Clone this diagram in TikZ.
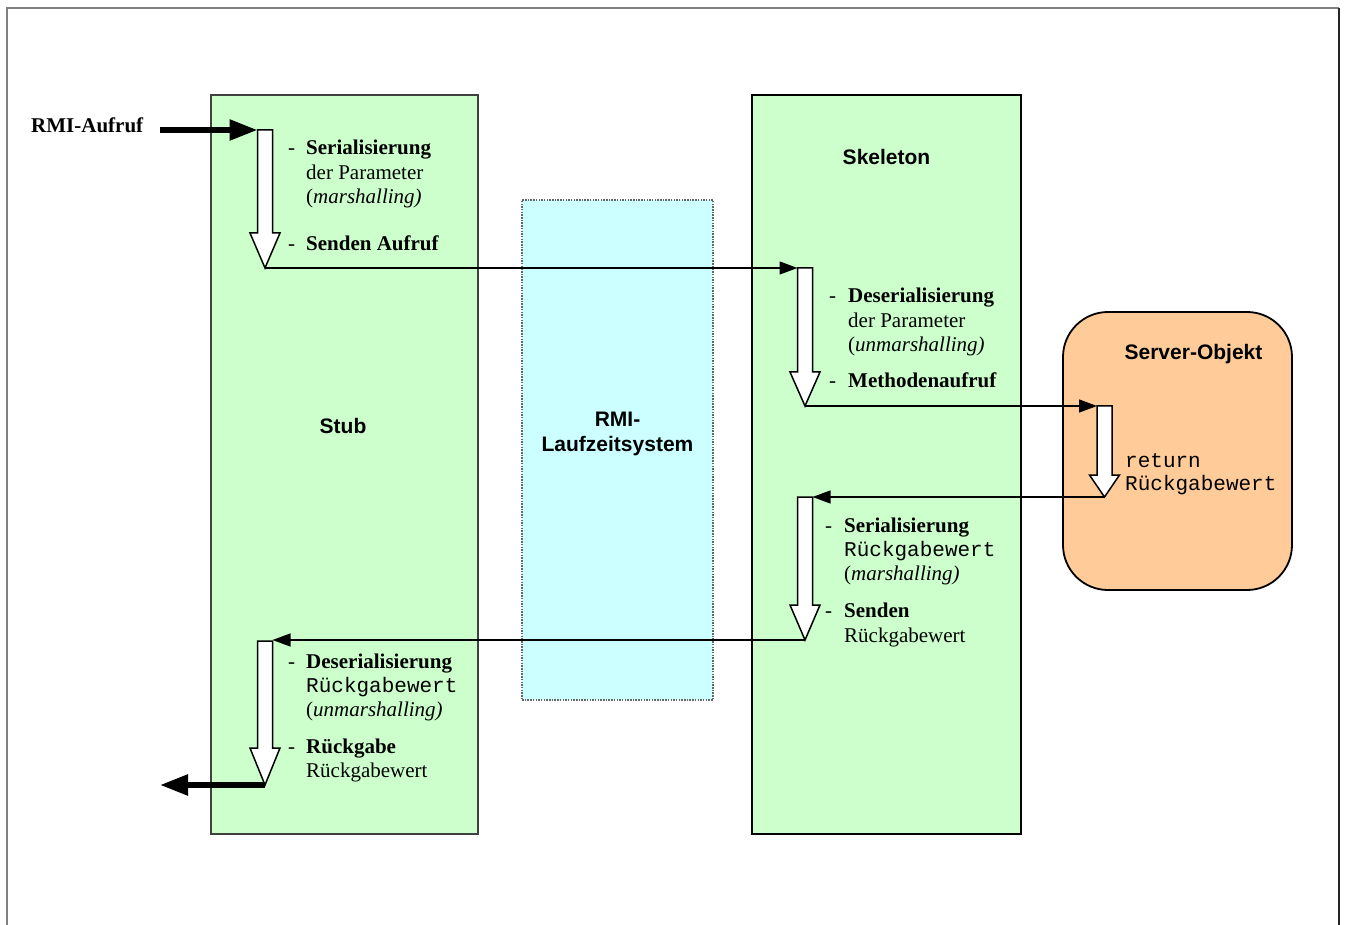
\documentclass[tikz,border=0pt]{standalone}
\usepackage{fontspec}
\setmainfont{Liberation Serif}
\setsansfont{Liberation Sans}
\setmonofont{Liberation Mono}
\usetikzlibrary{arrows.meta}

\definecolor{boxgreen}{HTML}{CCFFCC}
\definecolor{boxcyan}{HTML}{CCFFFF}
\definecolor{boxorange}{HTML}{FFCC99}
\definecolor{framegray}{HTML}{808080}

% hollow downward block arrow: centre x, top y, head start y, tip y
\newcommand{\hollowdown}[4]{%
  \draw[hollow] (#1-7.5,#2) -- (#1+7.5,#2) -- (#1+7.5,#3) -- (#1+15,#3)
    -- (#1,#4) -- (#1-15,#3) -- (#1-7.5,#3) -- cycle;}

\tikzset{
  box/.style={draw, inner sep=0pt, outer sep=0pt},
  title/.style={font=\sffamily\bfseries\fontsize{21}{24.5}\selectfont, inner sep=0pt, anchor=base},
  txt/.style={font=\rmfamily\fontsize{21}{24.5}\selectfont, inner sep=0pt, anchor=base west},
  btxt/.style={txt, font=\rmfamily\bfseries\fontsize{21}{24.5}\selectfont},
  mtxt/.style={txt, font=\ttfamily\fontsize{21}{24.5}\selectfont},
  hollow/.style={draw=black, fill=white, line width=1.5pt, line join=miter},
  thin/.style={line width=1.3pt, -{Triangle[length=18pt,width=13pt]}},
  thick/.style={line width=5.5pt, -{Triangle[length=28pt,width=20pt]}},
}

\begin{document}
\begin{tikzpicture}[x=1pt,y=-1pt]
\useasboundingbox (0,0) rectangle (1345,925);

% page frame
\draw[framegray, line width=1.5pt] (7,925) -- (7,8) -- (1339,8);
\draw[black!85, line width=1.5pt] (1339,8) -- (1339,925);

% components
\node[box, fill=boxgreen, draw=black!75, line width=1.4pt,
      minimum width=267pt, minimum height=739pt] (stub) at (344.5,464.5) {};
\node[box, fill=boxgreen, draw=black, line width=1.8pt,
      minimum width=269pt, minimum height=739pt] (skel) at (886.5,464.5) {};
\node[box, fill=boxcyan, draw=black!60, line width=1.2pt,
      dash pattern=on 1.5pt off 1.2pt,
      minimum width=191pt, minimum height=500pt] (rmi) at (617.5,450) {};
\node[box, fill=boxorange, draw=black, line width=1.8pt, rounded corners=45pt,
      minimum width=229pt, minimum height=278pt] (server) at (1177.5,451) {};

% component titles
\node[title] (stubT) at (343,434) {Stub};
\node[title] (rmiT1) at (617.5,427) {RMI-};
\node[title] (rmiT2) at (617.5,451) {Laufzeitsystem};
\node[title] (skelT) at (886.5,165) {Skeleton};
\node[title] (serverT) at (1193.5,360) {Server-Objekt};

% call entry / exit labels
\node[btxt] (aufruf) at (31,133) {RMI-Aufruf};

% anchor points of the control flow
\coordinate (inStart) at (160,130);
\coordinate (s1top) at (257.5,130);
\coordinate (s1tip) at (265,268);
\coordinate (k1in) at (797.5,268);
\coordinate (k1tip) at (805,406);
\coordinate (o1in) at (1097,406);
\coordinate (o1tip) at (1104.5,497);
\coordinate (k2in) at (812.5,497);
\coordinate (k2tip) at (805,640);
\coordinate (s2in) at (272.5,640);
\coordinate (s2tip) at (265,785);
\coordinate (outEnd) at (160,785);

% connectors
\draw[thick] (inStart) -- (s1top);
\draw[thin] (s1tip) -- (k1in);
\draw[thin] (k1tip) -- (o1in);
\draw[thin] (o1tip) -- (k2in);
\draw[thin] (k2tip) -- (s2in);
\draw[thick] (s2tip) -- (outEnd);

% processing steps
\hollowdown{265}{130}{233}{268}
\hollowdown{805}{268}{372}{406}
\hollowdown{1104.5}{406}{475}{497}
\hollowdown{805}{497}{605}{640}
\hollowdown{265}{641}{748}{785}

% Stub: outgoing call
\node[txt] (d1) at (288,155) {-};
\node[btxt] (t1a) at (306,155) {Serialisierung};
\node[txt] (t1b) at (306,179.5) {der Parameter};
\node[txt] (t1c) at (306,204) {(\textit{marshalling)}};
\node[txt] (d2) at (288,251) {-};
\node[btxt] (t2a) at (306,251) {Senden Aufruf};

% Skeleton: incoming call
\node[txt] (d3) at (829,303) {-};
\node[btxt] (t3a) at (848,303) {Deserialisierung};
\node[txt] (t3b) at (848,327.5) {der Parameter};
\node[txt] (t3c) at (848,352) {(\textit{unmarshalling)}};
\node[txt] (d4) at (829,388) {-};
\node[btxt] (t4a) at (848,388) {Methodenaufruf};

% Server object
\node[mtxt] (r1) at (1125,467) {return};
\node[mtxt] (r2) at (1125,490.5) {Rückgabewert};

% Skeleton: return value
\node[txt] (d5) at (825,532) {-};
\node[btxt] (t5a) at (844,532) {Serialisierung};
\node[mtxt] (t5b) at (844,556) {Rückgabewert};
\node[txt] (t5c) at (844,580.5) {(\textit{marshalling)}};
\node[txt] (d6) at (825,617) {-};
\node[btxt] (t6a) at (844,617) {Senden};
\node[txt] (t6b) at (844,642) {Rückgabewert};

% Stub: return value
\node[txt] (d7) at (288,668) {-};
\node[btxt] (t7a) at (306,668) {Deserialisierung};
\node[mtxt] (t7b) at (306,692) {Rückgabewert};
\node[txt] (t7c) at (306,716.5) {(\textit{unmarshalling)}};
\node[txt] (d8) at (288,753) {-};
\node[btxt] (t8a) at (306,753) {Rückgabe};
\node[txt] (t8b) at (306,777.5) {Rückgabewert};
\end{tikzpicture}
\end{document}
